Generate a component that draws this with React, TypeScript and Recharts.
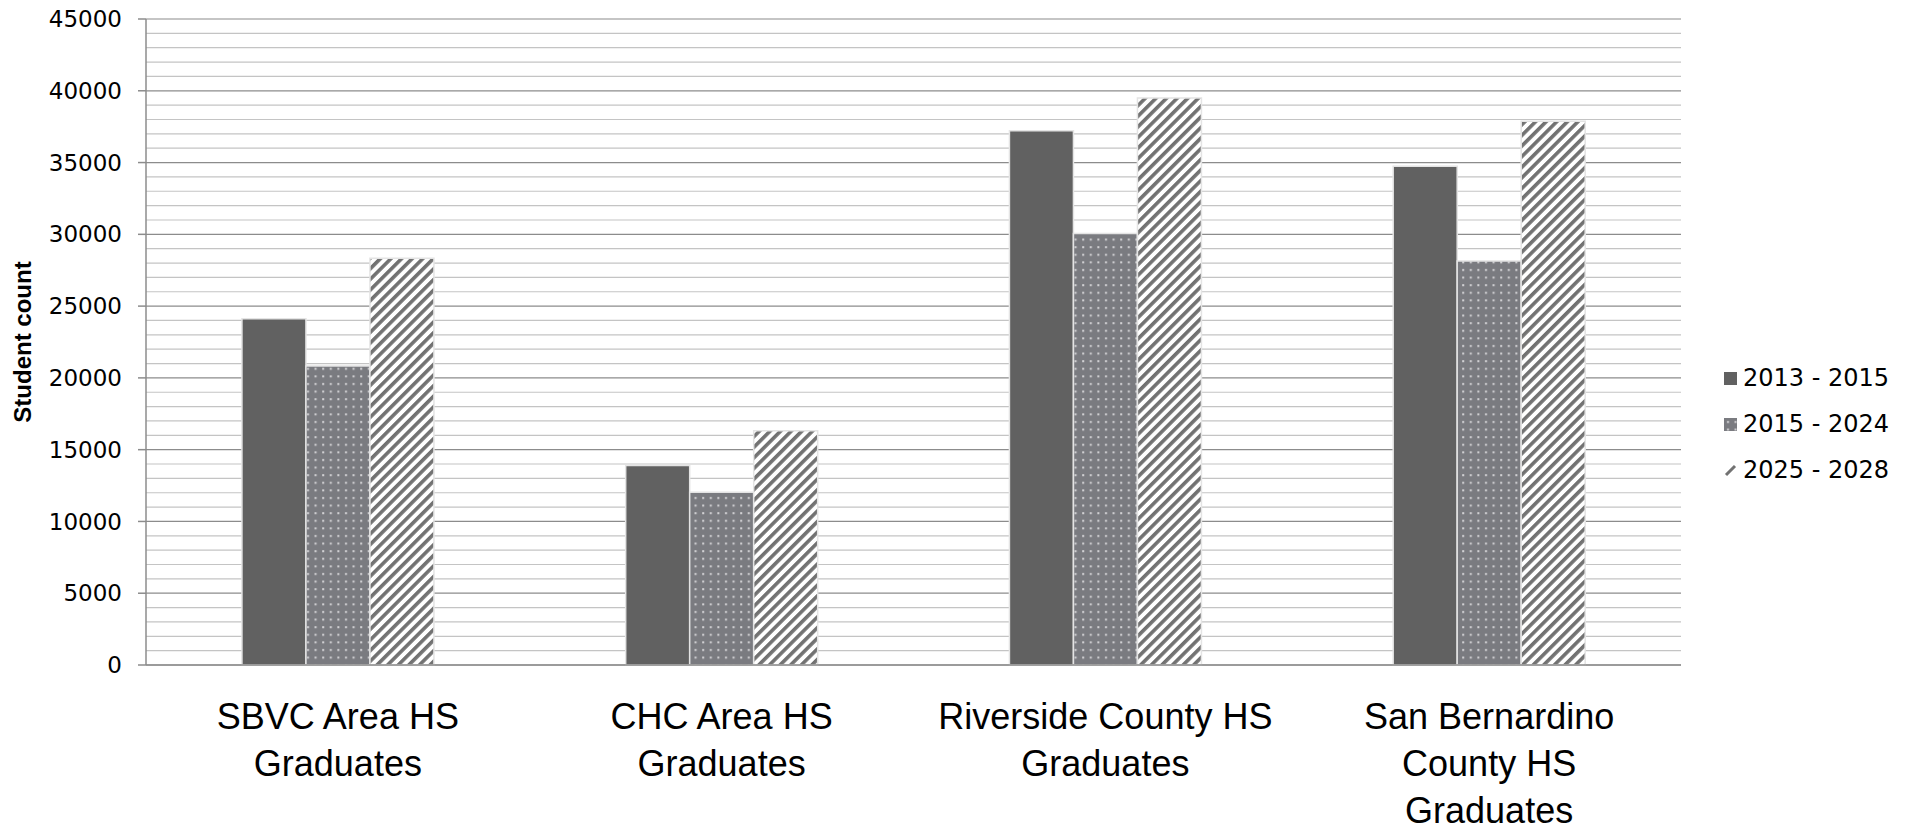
import React from 'react';
import { BarChart, Bar, XAxis, YAxis, CartesianGrid, Label } from 'recharts';

const categories = [
  'SBVC Area HS\nGraduates',
  'CHC Area HS\nGraduates',
  'Riverside County HS\nGraduates',
  'San Bernardino\nCounty HS\nGraduates',
];

const seriesNames = ['2013 - 2015', '2015 - 2024', '2025 - 2028'];

const grads2013to2015 = [24120, 13890, 37220, 34750];
const grads2015to2024 = [20830, 12040, 30050, 28150];
const grads2025to2028 = [28330, 16320, 39490, 37870];

const yTicks = [0, 5000, 10000, 15000, 20000, 25000, 30000, 35000, 40000, 45000];
const minorStep = 1000;

const data = categories.map((name, i) => ({
  name,
  a: grads2013to2015[i],
  b: grads2015to2024[i],
  c: grads2025to2028[i],
}));

// light lines every 1000 between the labelled ticks
const minorLines: number[] = [];
for (let v = 0; v <= yTicks[yTicks.length - 1]; v += minorStep) {
  if (!yTicks.includes(v)) minorLines.push(v);
}

const fills = ['#616161', 'url(#dotFill)', 'url(#stripeFill)'];
const keys = ['a', 'b', 'c'];

const FONT = '"Liberation Sans", Arial, sans-serif';
const NUM_FONT = '"DejaVu Sans", sans-serif';

const CategoryTick = (props: any) => {
  const { x, y, payload } = props;
  const lines = String(payload.value).split('\n');
  return (
    <text x={x} y={y} textAnchor="middle" fontSize={36} fill="#000" fontFamily={FONT}>
      {lines.map((line, i) => (
        <tspan key={i} x={x} dy={i === 0 ? 64 : 47}>
          {line}
        </tspan>
      ))}
    </text>
  );
};

const Patterns = () => (
  <defs>
    <pattern id="dotFill" width="7.6" height="7.6" patternUnits="userSpaceOnUse">
      <rect width="7.6" height="7.6" fill="#7a7b80" />
      <rect x="3" y="3" width="2" height="2" fill="#d4d4d6" />
    </pattern>
    <pattern
      id="stripeFill"
      width="7.5"
      height="7.5"
      patternUnits="userSpaceOnUse"
      patternTransform="rotate(45)"
    >
      <rect width="7.5" height="7.5" fill="#ffffff" />
      <rect width="3.6" height="7.5" fill="#727272" />
    </pattern>
  </defs>
);

const LegendIcon = ({ index }: { index: number }) => (
  <svg width={13} height={13} style={{ display: 'block' }}>
    {index === 0 && <rect width={13} height={13} fill="#616161" />}
    {index === 1 && <rect width={13} height={13} fill="url(#dotFill)" />}
    {index === 2 && <line x1={2} y1={11} x2={11} y2={2} stroke="#727272" strokeWidth={3} />}
  </svg>
);

export default function App() {
  return (
    <div style={{ position: 'absolute', left: 0, top: 0, width: 1906, height: 830, background: '#fff' }}>
      <BarChart
        width={1906}
        height={830}
        data={data}
        margin={{ top: 19, right: 225, bottom: 0, left: 0 }}
        barCategoryGap="25%"
        barGap={0}
      >
        <Patterns />
        <CartesianGrid
          vertical={false}
          horizontalValues={minorLines}
          stroke="#c4c4c4"
          strokeWidth={1.2}
        />
        <CartesianGrid vertical={false} stroke="#8c8c8c" strokeWidth={1.2} />
        <XAxis
          dataKey="name"
          interval={0}
          height={165}
          tickLine={false}
          tickSize={0}
          tickMargin={0}
          axisLine={{ stroke: '#8c8c8c', strokeWidth: 1.5 }}
          tick={<CategoryTick />}
        />
        <YAxis
          width={146}
          domain={[0, 45000]}
          ticks={yTicks}
          interval={0}
          tickSize={8}
          tickMargin={16}
          axisLine={{ stroke: '#8c8c8c', strokeWidth: 1.5 }}
          tickLine={{ stroke: '#8c8c8c', strokeWidth: 1.5 }}
          tick={{ fill: '#000', fontSize: 23, fontFamily: NUM_FONT }}
        >
          <Label
            value="Student count"
            angle={-90}
            position="insideLeft"
            offset={22}
            style={{ textAnchor: 'middle', fontSize: 24, fontWeight: 'bold', fontFamily: FONT, fill: '#000' }}
          />
        </YAxis>
        {keys.map((k, i) => (
          <Bar
            key={k}
            dataKey={k}
            name={seriesNames[i]}
            fill={fills[i]}
            stroke="#e4e4e4"
            strokeWidth={1.5}
            isAnimationActive={false}
          />
        ))}
      </BarChart>
      <div style={{ position: 'absolute', left: 1724, top: 355, fontFamily: NUM_FONT, fontSize: 24, color: '#000' }}>
        {seriesNames.map((name, i) => (
          <div key={name} style={{ display: 'flex', alignItems: 'center', height: 46 }}>
            <LegendIcon index={i} />
            <span style={{ marginLeft: 6 }}>{name}</span>
          </div>
        ))}
      </div>
    </div>
  );
}
